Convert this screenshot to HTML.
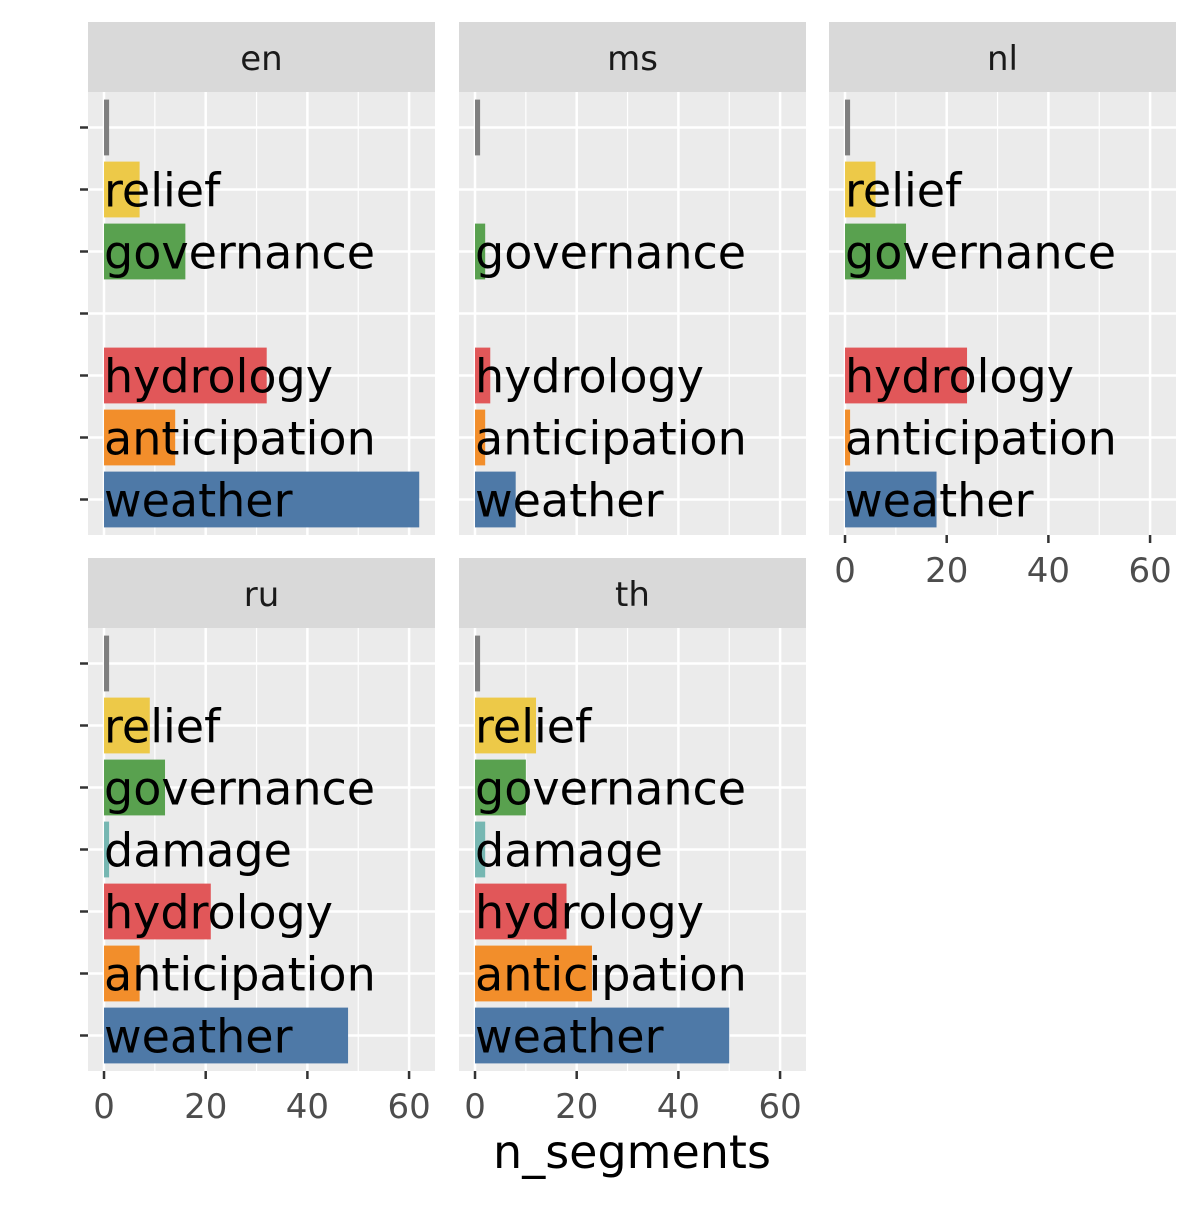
<!DOCTYPE html>
<html><head><meta charset="utf-8"><style>
html,body{margin:0;padding:0;background:#fff;}
svg text{font-family:"DejaVu Sans","Liberation Sans",sans-serif;}
</style></head><body>
<svg id="chart" width="1200" height="1200" xmlns="http://www.w3.org/2000/svg"></svg>
<script>
const categories = ["", "relief", "governance", "damage", "hydrology", "anticipation", "weather"];
const colors = ["#7f7f7f", "#EDC948", "#59A14F", "#76B7B2", "#E15759", "#F28E2B", "#4E79A7"];
const facets = ["en", "ms", "nl", "ru", "th"];
const valuesEn = [1, 7, 16, 0, 32, 14, 62];
const valuesMs = [1, 0, 2, 0, 3, 2, 8];
const valuesNl = [1, 6, 12, 0, 24, 1, 18];
const valuesRu = [1, 9, 12, 1, 21, 7, 48];
const valuesTh = [1, 12, 10, 2, 18, 23, 50];
const xTicks = [0, 20, 40, 60];
const xMinor = [10, 30, 50];
const allValues = [valuesEn, valuesMs, valuesNl, valuesRu, valuesTh];

const svg = document.getElementById('chart');
const NS = "http://www.w3.org/2000/svg";
function mk(tag, attrs, parent){const e=document.createElementNS(NS,tag);for(const k in attrs)e.setAttribute(k,attrs[k]);(parent||svg).appendChild(e);return e;}

const panelW = 347, panelH = 443, stripH = 70;
const lefts = [88, 459, 829];
const tops = [22, 558];
const xMin = -3.15, xMax = 65.1;
const rowStep = 62;

facets.forEach((f, i) => {
  const col = i % 3, row = Math.floor(i / 3);
  const L = lefts[col], T = tops[row] + stripH;
  const xs = v => L + (v - xMin) / (xMax - xMin) * panelW;
  const ys = k => T + panelH / 2 + (k - 3) * rowStep;
  const g = mk('g', {});
  
  
  const strip = mk('rect', {x:L, y:tops[row], width:panelW, height:stripH, fill:'#d9d9d9'}, g);
  
  
  const st = mk('text', {x:L+panelW/2, y:tops[row]+stripH/2+13, 'text-anchor':'middle', 'font-size':34, fill:'#1a1a1a'}, g);
  st.textContent = f;
  
  
  const bg = mk('rect', {x:L, y:T, width:panelW, height:panelH, fill:'#ebebeb'}, g);
  
  
  xMinor.forEach(v => mk('line', {x1:xs(v), x2:xs(v), y1:T, y2:T+panelH, stroke:'#fff', 'stroke-width':1.2}, g));
  xTicks.forEach(v => mk('line', {x1:xs(v), x2:xs(v), y1:T, y2:T+panelH, stroke:'#fff', 'stroke-width':2.5}, g));
  categories.forEach((c, k) => mk('line', {x1:L, x2:L+panelW, y1:ys(k), y2:ys(k), stroke:'#fff', 'stroke-width':2.5}, g));
  const vals = allValues[i];
  categories.forEach((c, k) => {
    const v = vals[k];
    if (v <= 0) return;
    const b = mk('rect', {x:xs(0), y:ys(k)-rowStep*0.45, width:xs(v)-xs(0), height:rowStep*0.9, fill:colors[k]}, g);
    
    
    if (c) {
      const t = mk('text', {x:xs(0), y:ys(k)+17, 'font-size':46, fill:'#000'}, g);
      t.textContent = c;
      
      
    }
  });
  if (col === 0) {
    categories.forEach((c, k) => mk('line', {x1:L-8, x2:L, y1:ys(k), y2:ys(k), stroke:'#333', 'stroke-width':2.5}, g));
  }
  if (row === 1 || col === 2) {
    xTicks.forEach(v => {
      mk('line', {x1:xs(v), x2:xs(v), y1:T+panelH, y2:T+panelH+8, stroke:'#333', 'stroke-width':2.5}, g);
      const t = mk('text', {x:xs(v), y:T+panelH+47, 'text-anchor':'middle', 'font-size':34, fill:'#4d4d4d'}, g);
      t.textContent = v;
      
      
    });
  }
});
const xt = mk('text', {x:632, y:1168, 'text-anchor':'middle', 'font-size':46, fill:'#000'});
xt.textContent = 'n_segments';


</script>
</body></html>
